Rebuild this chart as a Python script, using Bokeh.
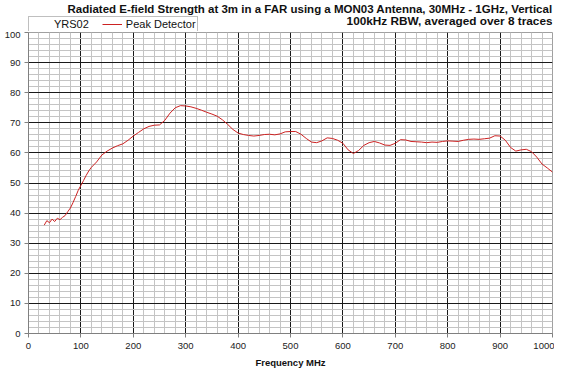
from bokeh.plotting import figure
from bokeh.layouts import column
from bokeh.models import (SingleIntervalTicker, FixedTicker, Range1d, Label, Legend, LegendItem)
from bokeh.embed import file_html
from bokeh.resources import INLINE

freq = [30, 35, 40, 45, 50, 55, 60, 65, 70, 75, 80, 85, 90, 95, 100, 105, 110, 115, 120,
        130, 140, 150, 160, 170, 180, 190, 200, 210, 220, 230, 240, 250, 260, 270, 280,
        290, 300, 310, 320, 330, 340, 350, 360, 370, 380, 390, 400, 410, 420, 430, 440,
        450, 460, 470, 480, 490, 500, 510, 520, 530, 540, 550, 560, 570, 580, 590, 600,
        610, 620, 630, 640, 650, 660, 670, 680, 690, 700, 710, 720, 730, 740, 750, 760,
        770, 780, 790, 800, 810, 820, 830, 840, 850, 860, 870, 880, 890, 900, 910, 920,
        930, 940, 950, 960, 970, 980, 990, 1000]
level = [36.0, 37.5, 36.8, 38.0, 37.2, 38.3, 37.8, 38.6, 39.2, 40.5, 41.7, 43.5, 45.5, 47.6,
         49.2, 50.8, 52.5, 54.0, 55.2,
         57.0, 59.3, 60.6, 61.6, 62.4, 63.0, 64.2, 65.6, 66.8, 68.0, 68.8, 69.2, 69.3, 70.8,
         73.2, 75.0, 75.7, 75.6, 75.3, 74.8, 74.2, 73.5, 72.9, 72.2, 71.0, 69.5, 67.8, 66.6,
         66.1, 65.8, 65.6, 65.8, 66.1, 66.2, 66.0, 66.3, 67.0, 67.1, 67.1, 66.2, 64.8, 63.6,
         63.4, 64.0, 65.0, 64.8, 64.2, 63.2, 61.0, 59.8, 60.8, 62.5, 63.4, 63.8, 63.3, 62.6,
         62.5, 63.2, 64.4, 64.3, 63.8, 63.7, 63.6, 63.4, 63.6, 63.5, 63.8, 64.0, 63.9, 63.8,
         64.2, 64.5, 64.6, 64.5, 64.7, 64.9, 65.7, 65.6, 64.2, 61.8, 60.6, 61.0, 61.2, 60.4,
         58.6, 56.3, 55.0, 53.6]

title1 = "Radiated E-field Strength at 3m in a FAR using a MON03 Antenna, 30MHz - 1GHz, Vertical"
title2 = "100kHz RBW, averaged over 8 traces"
series_name = "Peak Detector"
group_name = "YRS02"
x_label = "Frequency MHz"

FONT = "Liberation Sans"
LINE_COLOR = "#cc2222"
W, HEAD_H, MAIN_H = 554, 31, 339
X_MAX, Y_MAX = 1000, 100

# ---- header strip: titles and legend ----
head = figure(width=W, height=HEAD_H, output_backend="svg", toolbar_location=None,
              x_range=Range1d(0, 1), y_range=Range1d(0, HEAD_H),
              x_axis_location=None, y_axis_location=None,
              min_border=0, min_border_left=0, min_border_right=0,
              min_border_top=0, min_border_bottom=0,
              background_fill_color="white", border_fill_color="white")
head.outline_line_color = None
head.xgrid.visible = False
head.ygrid.visible = False

head.add_layout(Label(x=1, y=23, text=title1, text_align="right",
                      text_baseline="middle", text_font=FONT, text_font_size="11.5px",
                      text_font_style="bold", text_color="#111111"))
head.add_layout(Label(x=1, y=11, text=title2, text_align="right",
                      text_baseline="middle", text_font=FONT, text_font_size="11.8px",
                      text_font_style="bold", text_color="#111111"))

# legend proxies (their single point lies outside the header's range, so only the key shows)
g_proxy = head.line(freq[:1], level[:1], line_alpha=0)
p_proxy = head.line(freq[:1], level[:1], line_color=LINE_COLOR, line_width=1)
legend = Legend(items=[LegendItem(label=group_name, renderers=[g_proxy]),
                       LegendItem(label=series_name, renderers=[p_proxy])],
                orientation="horizontal", location=(0, -1),
                label_text_font=FONT, label_text_font_size="11px",
                label_text_color="#111111",
                border_line_color="#808080", background_fill_color="white",
                background_fill_alpha=1, padding=1, margin=0, glyph_width=20,
                glyph_height=10, label_height=10, label_standoff=4, spacing=13)
head.add_layout(legend, "center")

# ---- main chart ----
p = figure(width=W, height=MAIN_H, output_backend="svg", toolbar_location=None,
           x_range=Range1d(0, X_MAX), y_range=Range1d(0, Y_MAX),
           min_border_left=28, min_border_right=2, min_border_top=1, min_border_bottom=0,
           background_fill_color="white", border_fill_color="white")
p.outline_line_color = "#a0a0a0"

p.xaxis.ticker = SingleIntervalTicker(interval=100, num_minor_ticks=5)
p.yaxis.ticker = SingleIntervalTicker(interval=10, num_minor_ticks=5)

for ax in (p.xaxis, p.yaxis):
    ax.axis_line_color = "#808080"
    ax.major_tick_line_color = "#808080"
    ax.major_tick_out = 4
    ax.major_tick_in = 0
    ax.minor_tick_line_color = None
    ax.major_label_text_font = FONT
    ax.major_label_text_font_size = "9.5px"
    ax.major_label_text_color = "#222222"

p.yaxis.major_label_standoff = 4
p.xaxis.major_label_standoff = 5
p.xaxis.axis_label = x_label
p.xaxis.axis_label_text_font = FONT
p.xaxis.axis_label_text_font_size = "9.5px"
p.xaxis.axis_label_text_font_style = "bold"
p.xaxis.axis_label_text_color = "#111111"
p.xaxis.axis_label_standoff = 5

# interior grid lines only (edges are drawn by the light outline)
p.xgrid.ticker = FixedTicker(ticks=list(range(100, X_MAX, 100)),
                             minor_ticks=[t for t in range(20, X_MAX, 20) if t % 100])
p.ygrid.ticker = FixedTicker(ticks=list(range(10, Y_MAX, 10)),
                             minor_ticks=[t for t in range(2, Y_MAX, 2) if t % 10])
for g in (p.xgrid, p.ygrid):
    g.grid_line_color = "#1a1a1a"
    g.grid_line_width = 1
    g.minor_grid_line_color = "#c4c4c4"
    g.minor_grid_line_width = 1

p.line(freq, level, line_color=LINE_COLOR, line_width=1)

layout = column(head, p, spacing=0)
open("out.html", "w").write(file_html(layout, INLINE))
